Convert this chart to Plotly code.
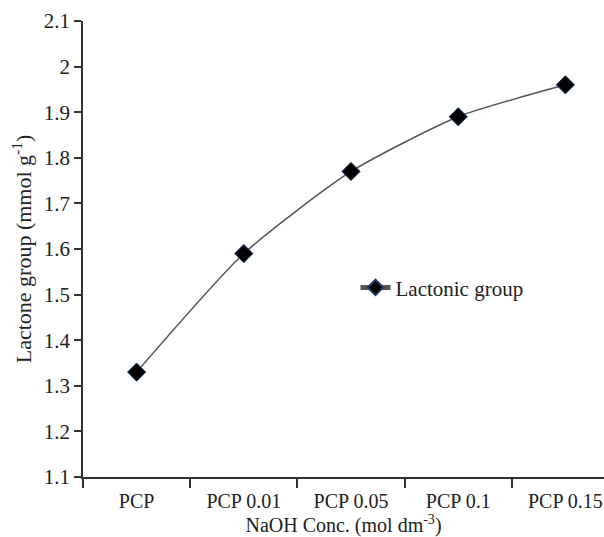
import plotly.graph_objects as go

categories = ["PCP", "PCP 0.01", "PCP 0.05", "PCP 0.1", "PCP 0.15"]
lactonic_group = [1.33, 1.59, 1.77, 1.89, 1.96]
y_ticks = [1.1, 1.2, 1.3, 1.4, 1.5, 1.6, 1.7, 1.8, 1.9, 2.0, 2.1]

FONT = "Liberation Serif, Times New Roman, serif"

fig = go.Figure()
fig.add_trace(go.Scatter(
    x=categories, y=lactonic_group, name="Lactonic group",
    mode="lines+markers",
    line=dict(color="#555555", width=1.5, shape="spline", smoothing=0.6),
    marker=dict(symbol="diamond", size=14, color="black",
                line=dict(color="#1c3c66", width=1)),
))

fig.update_layout(
    width=604, height=537,
    margin=dict(l=83, r=0, t=21, b=60),
    paper_bgcolor="white", plot_bgcolor="white",
    font=dict(family=FONT, size=19, color="#222222"),
    showlegend=True,
    legend=dict(x=0.523, y=0.415, xanchor="left", yanchor="middle",
                bgcolor="rgba(0,0,0,0)", font=dict(size=21, family=FONT),
                itemsizing="constant"),
)
fig.update_xaxes(
    type="category", range=[-0.5, 4.36],
    showline=True, linecolor="#333333", linewidth=1.5,
    ticks="outside", ticklen=9, tickwidth=1.5, tickcolor="#333333",
    tickson="boundaries", showgrid=False, zeroline=False,
    title=dict(text="NaOH Conc. (mol dm<sup>-3</sup>)", standoff=9,
               font=dict(size=20)),
    tickfont=dict(size=20),
    ticklabelstandoff=5,
)
fig.update_yaxes(
    range=[1.1, 2.1], tickvals=y_ticks,
    showline=True, linecolor="#333333", linewidth=1.5,
    ticks="outside", ticklen=7, tickwidth=1.5, tickcolor="#333333",
    showgrid=False, zeroline=False,
    title=dict(text="Lactone group (mmol g<sup>-1</sup>)", standoff=6,
               font=dict(size=22)),
    tickfont=dict(size=21),
)

fig.write_html("out.html")
